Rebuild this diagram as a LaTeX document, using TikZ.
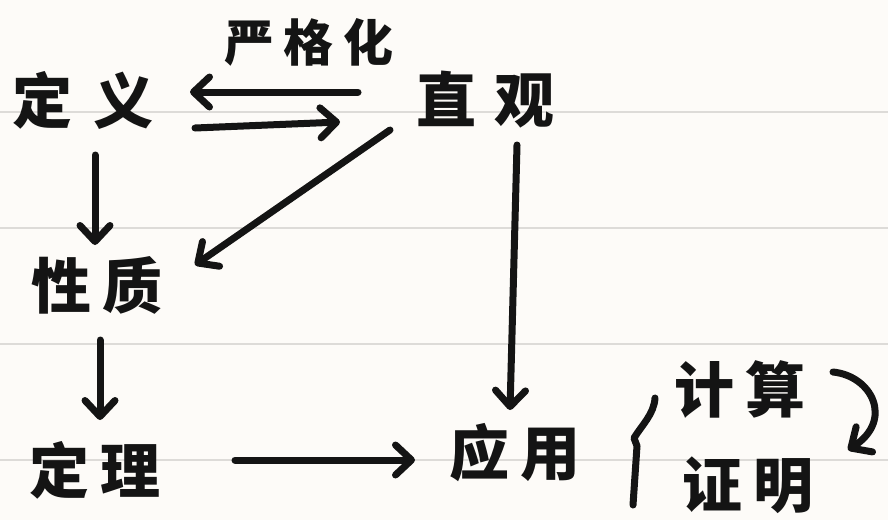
\documentclass[tikz,border=0pt]{standalone}
\usepackage{fontspec}
\newfontfamily\cjk{Noto Sans CJK SC}
\usetikzlibrary{arrows.meta,calc}
\definecolor{paper}{HTML}{FDFBF8}
\definecolor{rule}{HTML}{DDDBD8}
\definecolor{ink}{HTML}{141414}
\tikzset{
  word/.style={inner sep=0pt, text=ink, font=\cjk\bfseries\fontsize{60}{62}\selectfont},
  smallword/.style={inner sep=0pt, text=ink, font=\cjk\bfseries\fontsize{50}{52}\selectfont},
  arr/.style={draw=ink, line width=7pt, line cap=round, line join=round,
    -{Straight Barb[length=16pt,width=30pt,line width=7pt,round]}},
  stroke/.style={draw=ink, line width=7pt, line cap=round, line join=round},
  ruling/.style={draw=rule, line width=2.5pt}
}
\newcommand{\gp}{\hspace{0.2em}}
\begin{document}
\begin{tikzpicture}[x=1pt,y=-1pt]
\fill[paper] (0,0) rectangle (888,520);
\useasboundingbox (0,0) rectangle (888,520);
\foreach \yy in {112,228,344,460} \draw[ruling] (0,\yy) -- (888,\yy);

\node[word] (dingyi) at (83,100) {定\hspace{0.35em}义};
\node[smallword] (yangehua) at (309,42) {严\gp 格\gp 化};
\node[word] (zhiguan) at (485,100) {直\hspace{0.3em}观};
\node[word] (xingzhi) at (97,285) {性\gp 质};
\node[word] (dingli) at (95,470) {定\gp 理};
\node[word] (yingyong) at (515,453) {应\gp 用};
\node[word] (jisuan) at (740,390) {计\gp 算};
\node[word] (zhengming) at (748,485) {证\gp 明};

\coordinate (bt) at (655,398);
\coordinate (bb) at (633,505);

% 直观 -> 定义 (严格化)
\draw[arr] ($(zhiguan)+(-127,-8)$) -- ($(dingyi)+(107,-8)$);
% 定义 -> 直观
\draw[arr] ($(dingyi)+(112,28)$) -- ($(zhiguan)+(-145,22)$);
% 定义 -> 性质
\draw[arr] ($(dingyi)+(12,55)$) -- ($(xingzhi)+(-2,-40)$);
% 直观 -> 性质
\draw[arr] ($(zhiguan)+(-95,30)$) -- ($(xingzhi)+(98,-20)$);
% 直观 -> 应用
\draw[arr] ($(zhiguan)+(32,45)$) -- ($(yingyong)+(-5,-43)$);
% 性质 -> 定理
\draw[arr] ($(xingzhi)+(3,55)$) -- ($(dingli)+(5,-50)$);
% 定理 -> 应用
\draw[arr] ($(dingli)+(140,-10)$) -- ($(yingyong)+(-100,7)$);
% brace
\draw[stroke] (bt) .. controls (654,414) and (642,425) .. (634,438) -- (637,446) -- (bb);
% 计算 -> 证明
\draw[arr] ($(jisuan)+(93,-18)$) .. controls (872,376) and (894,420) .. ($(zhengming)+(100,-35)$);
\end{tikzpicture}
\end{document}
